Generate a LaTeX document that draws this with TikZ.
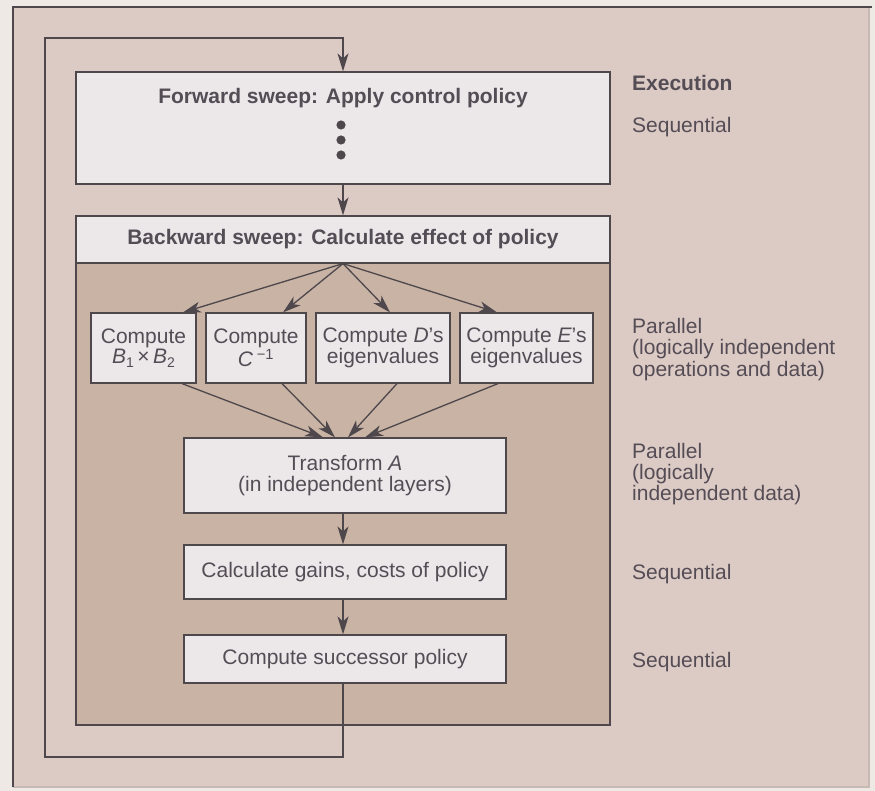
\documentclass[tikz,border=0pt]{standalone}
\usepackage{fontspec}
\setmainfont{Liberation Sans}
\usetikzlibrary{arrows.meta}
\definecolor{paper}{HTML}{EFE9E6}
\definecolor{frame}{HTML}{DCCAC5}
\definecolor{frameedge}{HTML}{C8B9B5}
\definecolor{panel}{HTML}{C8B3A4}
\definecolor{boxfill}{HTML}{ECE8EA}
\definecolor{ink}{HTML}{4E474C}
\definecolor{txt}{HTML}{554D55}
\tikzset{
  every node/.style={font=\fontsize{21}{20.5}\selectfont, text=txt},
  stepbox/.style={draw=ink, line width=1.2pt, fill=boxfill, inner sep=0pt, align=center},
  arr/.style={draw=ink, line width=1.3pt, -{Stealth[length=18pt,width=11pt,inset=5pt]}},
  note/.style={anchor=base west, align=left, inner sep=0pt},
}
\begin{document}
\begin{tikzpicture}[x=1pt,y=-1pt]
  \useasboundingbox (0,0) rectangle (875,791);
  % page and outer frame: dark top and left edges, pale right and bottom edges
  \fill[paper] (0,0) rectangle (875,791);
  \fill[frame] (13,7) rectangle (869,787);
  \draw[frameedge, line width=1.3pt] (869,7) -- (869,787) -- (13,787);
  \draw[ink, line width=1.4pt] (13,787) -- (13,7) -- (872,7);

  % forward sweep
  \node[stepbox, minimum width=534pt, minimum height=112pt] (fwd) at (343,128) {};
  \node[font=\bfseries\fontsize{21}{20.5}\selectfont, anchor=base] (fwdtitle) at (343,104) {Forward sweep: Apply control policy};
  \foreach \y [count=\i] in {125,140,155}
    \fill[ink] (341,\y) circle (4.6pt) coordinate (dot\i);

  % backward sweep header and its panel
  \node[draw=ink, line width=1.2pt, fill=panel, minimum width=534pt, minimum height=462pt, inner sep=0pt] (panel) at (343,494) {};
  \node[stepbox, minimum width=534pt, minimum height=47pt, font=\bfseries\fontsize{21}{20.5}\selectfont] (bwd) at (343,239.5) {Backward sweep: Calculate effect of policy};

  % parallel operations
  \node[stepbox, minimum width=105pt, minimum height=70pt] (c1) at (143.5,348) {Compute\\\textit{B}\raisebox{-4pt}{\fontsize{14}{14}\selectfont 1}\,×\,\textit{B}\raisebox{-4pt}{\fontsize{14}{14}\selectfont 2}};
  \node[stepbox, minimum width=100pt, minimum height=70pt] (c2) at (256,348) {Compute\\\textit{C}\,\textsuperscript{−1}};
  \node[stepbox, minimum width=134pt, minimum height=70pt] (c3) at (383,348) {Compute \textit{D}'s\\eigenvalues};
  \node[stepbox, minimum width=133pt, minimum height=70pt] (c4) at (526.5,348) {Compute \textit{E}'s\\eigenvalues};

  % sequential tail
  \node[stepbox, minimum width=322pt, minimum height=75pt] (tr) at (345,475.5) {Transform \textit{A}\\(in independent layers)};
  \node[stepbox, minimum width=322pt, minimum height=54pt] (calc) at (345,572) {Calculate gains, costs of policy};
  \node[stepbox, minimum width=322pt, minimum height=48pt] (succ) at (345,659) {Compute successor policy};

  % connectors
  \draw[arr] (fwd.south) -- (bwd.north);
  \draw[arr] (bwd.south) -- ([xshift=39.5pt]c1.north);
  \draw[arr] (bwd.south) -- ([xshift=27pt]c2.north);
  \draw[arr] (bwd.south) -- ([xshift=7pt]c3.north);
  \draw[arr] (bwd.south) -- ([xshift=-29.5pt]c4.north);
  \draw[arr] ([xshift=38.5pt]c1.south) -- ([xshift=-22pt]tr.north);
  \draw[arr] ([xshift=26pt]c2.south) -- ([xshift=-10pt]tr.north);
  \draw[arr] ([xshift=14pt]c3.south) -- ([xshift=3pt]tr.north);
  \draw[arr] ([xshift=-28.5pt]c4.south) -- ([xshift=20pt]tr.north);
  \draw[arr] ([xshift=-2pt]tr.south) -- ([xshift=-2pt]calc.north);
  \draw[arr] ([xshift=-2pt]calc.south) -- ([xshift=-2pt]succ.north);

  % feedback loop back to the forward sweep
  \coordinate (loopbl) at (45,757);
  \coordinate (looptl) at (45,38);
  \draw[arr] ([xshift=-2pt]succ.south) |- (loopbl) -- (looptl) -| (fwd.north);

  % execution column
  \node[note, font=\bfseries\fontsize{21}{20.5}\selectfont] (exec) at (632,91) {Execution};
  \node[note] (seq1) at (632,133) {Sequential};
  \node[note] (par1) at (632,334) {Parallel};
  \node[note] (par1a) at (632,355) {(logically independent};
  \node[note] (par1b) at (632,376) {operations and data)};
  \node[note] (par2) at (632,458) {Parallel};
  \node[note] (par2a) at (632,479) {(logically};
  \node[note] (par2b) at (632,500) {independent data)};
  \node[note] (seq2) at (632,579) {Sequential};
  \node[note] (seq3) at (632,667) {Sequential};
\end{tikzpicture}
\end{document}
